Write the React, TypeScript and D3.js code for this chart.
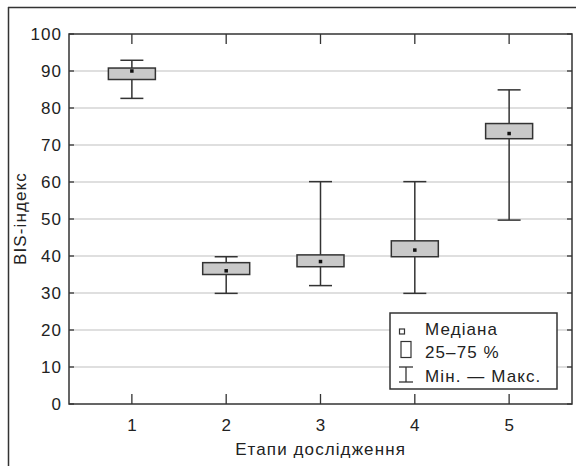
import React from "react";
import * as d3 from "d3";

const stages = [1, 2, 3, 4, 5];
const minVals = [82.6, 29.9, 32.0, 29.9, 49.7];
const q1Vals = [87.7, 35.0, 37.1, 39.8, 71.7];
const medianVals = [90.0, 36.0, 38.5, 41.6, 73.1];
const q3Vals = [90.8, 38.2, 40.3, 44.1, 75.8];
const maxVals = [92.9, 39.8, 60.1, 60.1, 84.9];
const yTicks = [0, 10, 20, 30, 40, 50, 60, 70, 80, 90, 100];
const legendLabels = ["Медіана", "25–75 %", "Мін. — Макс."];
const xTitle = "Етапи дослідження";
const yTitle = "BIS-індекс";

export default function App() {
  const W = 576, H = 466;
  const left = 69, right = 572, top = 34, bottom = 404;
  const x = d3.scaleLinear().domain([1 / 3, 17 / 3]).range([left, right]);
  const y = d3.scaleLinear().domain([0, 100]).range([bottom, top]);
  const boxW = 47, capW = 23;
  const dark = "#333";
  const font = "'Liberation Sans', Arial, sans-serif";
  const ls = 1.1;
  const txt = { fontFamily: font, fontSize: 17, fill: "#222", letterSpacing: ls };

  const lx = 390, ly = 313, lw = 167, lh = 76;
  const symX = 406;
  const rows = [335, 358, 382];

  return (
    <svg width={W} height={H} style={{ position: "absolute", left: 0, top: 0 }}>
      <rect x={0} y={0} width={W} height={H} fill="#fff" />
      {/* outer frame */}
      <line x1={8} y1={7.5} x2={W} y2={7.5} stroke={dark} strokeWidth={1.5} />
      <line x1={8.5} y1={7} x2={8.5} y2={H} stroke={dark} strokeWidth={1.5} />

      {/* gridlines */}
      {yTicks.filter(t => t > 0 && t < 100).map(t => (
        <line key={"g" + t} x1={left} x2={right} y1={y(t)} y2={y(t)} stroke="#d4d4d4" strokeWidth={1.3} />
      ))}

      {/* y ticks */}
      {yTicks.map(t => (
        <g key={"yt" + t}>
          <line x1={left} x2={left + 5} y1={y(t)} y2={y(t)} stroke={dark} strokeWidth={1.3} />
          <line x1={right} x2={right - 5} y1={y(t)} y2={y(t)} stroke={dark} strokeWidth={1.3} />
          <text x={left - 8 + ls} y={y(t)} dy="0.36em" textAnchor="end" {...txt}>{t}</text>
        </g>
      ))}
      {/* x ticks */}
      {stages.map(s => (
        <g key={"xt" + s}>
          <line x1={x(s)} x2={x(s)} y1={bottom} y2={bottom - 10} stroke={dark} strokeWidth={1.3} />
          <line x1={x(s)} x2={x(s)} y1={top} y2={top + 10} stroke={dark} strokeWidth={1.3} />
          <text x={x(s) + ls / 2} y={431} textAnchor="middle" {...txt}>{s}</text>
        </g>
      ))}

      {/* boxes */}
      {stages.map((s, i) => {
        const cx = x(s);
        return (
          <g key={"b" + s}>
            <line x1={cx} x2={cx} y1={y(maxVals[i])} y2={y(minVals[i])} stroke={dark} strokeWidth={1.5} />
            <line x1={cx - capW / 2} x2={cx + capW / 2} y1={y(maxVals[i])} y2={y(maxVals[i])} stroke={dark} strokeWidth={1.5} />
            <line x1={cx - capW / 2} x2={cx + capW / 2} y1={y(minVals[i])} y2={y(minVals[i])} stroke={dark} strokeWidth={1.5} />
            <rect x={cx - boxW / 2} y={y(q3Vals[i])} width={boxW} height={y(q1Vals[i]) - y(q3Vals[i])} fill="#c9c9c9" stroke={dark} strokeWidth={1.5} />
            <rect x={cx - 1.75} y={y(medianVals[i]) - 1.75} width={3.5} height={3.5} fill="#111" />
          </g>
        );
      })}

      {/* axes frame */}
      <rect x={left} y={top} width={right - left} height={bottom - top} fill="none" stroke={dark} strokeWidth={1.5} />

      {/* legend */}
      <rect x={lx} y={ly} width={lw} height={lh} fill="#fff" stroke={dark} strokeWidth={1.5} />
      <rect x={399.5} y={rows[0] - 6} width={5} height={5} fill="none" stroke={dark} strokeWidth={1.2} />
      <rect x={401} y={rows[1] - 16.5} width={10} height={16} fill="none" stroke={dark} strokeWidth={1.2} />
      <line x1={symX} x2={symX} y1={rows[2] - 15} y2={rows[2]} stroke={dark} strokeWidth={1.3} />
      <line x1={symX - 7} x2={symX + 7} y1={rows[2] - 15} y2={rows[2] - 15} stroke={dark} strokeWidth={1.3} />
      <line x1={symX - 7} x2={symX + 7} y1={rows[2]} y2={rows[2]} stroke={dark} strokeWidth={1.3} />
      {legendLabels.map((l, i) => (
        <text key={l} x={425} y={rows[i]} {...txt}>{l}</text>
      ))}

      {/* titles */}
      <text x={320 + ls / 2} y={455} textAnchor="middle" {...txt}>{xTitle}</text>
      <text transform={`translate(26,${218 + ls / 2}) rotate(-90)`} textAnchor="middle" {...txt}>{yTitle}</text>
    </svg>
  );
}
